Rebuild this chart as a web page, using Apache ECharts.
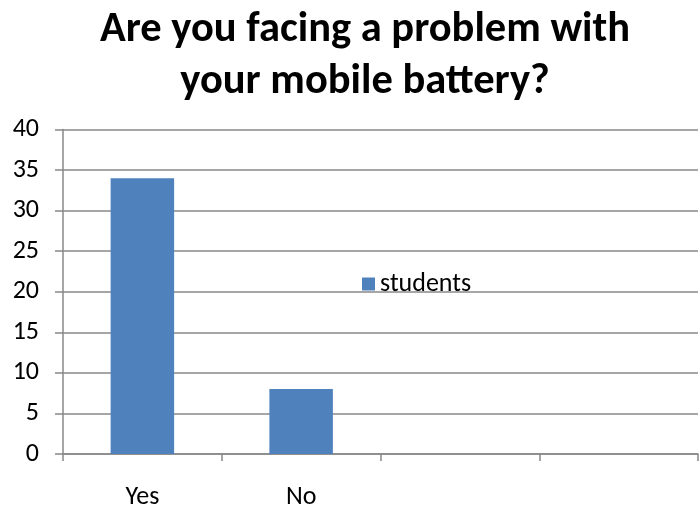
<!DOCTYPE html>
<html><head><meta charset="utf-8">
<script src="https://cdn.jsdelivr.net/npm/echarts@6/dist/echarts.min.js"></script>
<style>html,body{margin:0;padding:0;background:#fff}#c{width:700px;height:510px}</style>
</head><body><div id="c"></div>
<script>
const titleText = 'Are you facing a problem with\nyour mobile battery?';
const categories = ['Yes', 'No', '', ''];
const seriesName = 'students';
const values = [34, 8, null, null];
const yMin = 0, yMax = 40, yStep = 5;

const chart = echarts.init(document.getElementById('c'), null, {renderer: 'canvas'});
const font = 'Carlito, "Open Sans", "Liberation Sans", sans-serif';
chart.setOption({
  animation: false,
  backgroundColor: '#ffffff',
  title: {
    text: titleText, left: 360, textAlign: 'center', top: -1,
    textStyle: {fontFamily: font, fontWeight: 'bold', fontSize: 42.5, lineHeight: 52, color: '#000'}
  },
  legend: {
    data: [seriesName], left: 357, top: 266, icon: 'rect', itemWidth: 13, itemHeight: 13, itemGap: 8,
    textStyle: {fontFamily: font, fontSize: 26, color: '#000'}
  },
  grid: {left: 63, right: 2, top: 129.5, bottom: 55, containLabel: false},
  xAxis: {
    type: 'category', data: categories, boundaryGap: true,
    axisLine: {lineStyle: {color: '#888888', width: 1.5}},
    axisTick: {show: true, length: 7, lineStyle: {color: '#888888', width: 1.5}},
    axisLabel: {margin: 30, fontFamily: font, fontSize: 26, color: '#000'}
  },
  yAxis: {
    type: 'value', min: yMin, max: yMax, interval: yStep,
    axisLine: {show: true, lineStyle: {color: '#888888', width: 1.5}},
    axisTick: {show: true, length: 8, lineStyle: {color: '#888888', width: 1.5}},
    splitLine: {lineStyle: {color: '#888888', width: 1.5}},
    axisLabel: {margin: 24, fontFamily: font, fontSize: 26, color: '#000'}
  },
  series: [{
    name: seriesName, type: 'bar', data: values, barWidth: '40%',
    itemStyle: {color: '#4F81BD'}
  }]
});
</script></body></html>
